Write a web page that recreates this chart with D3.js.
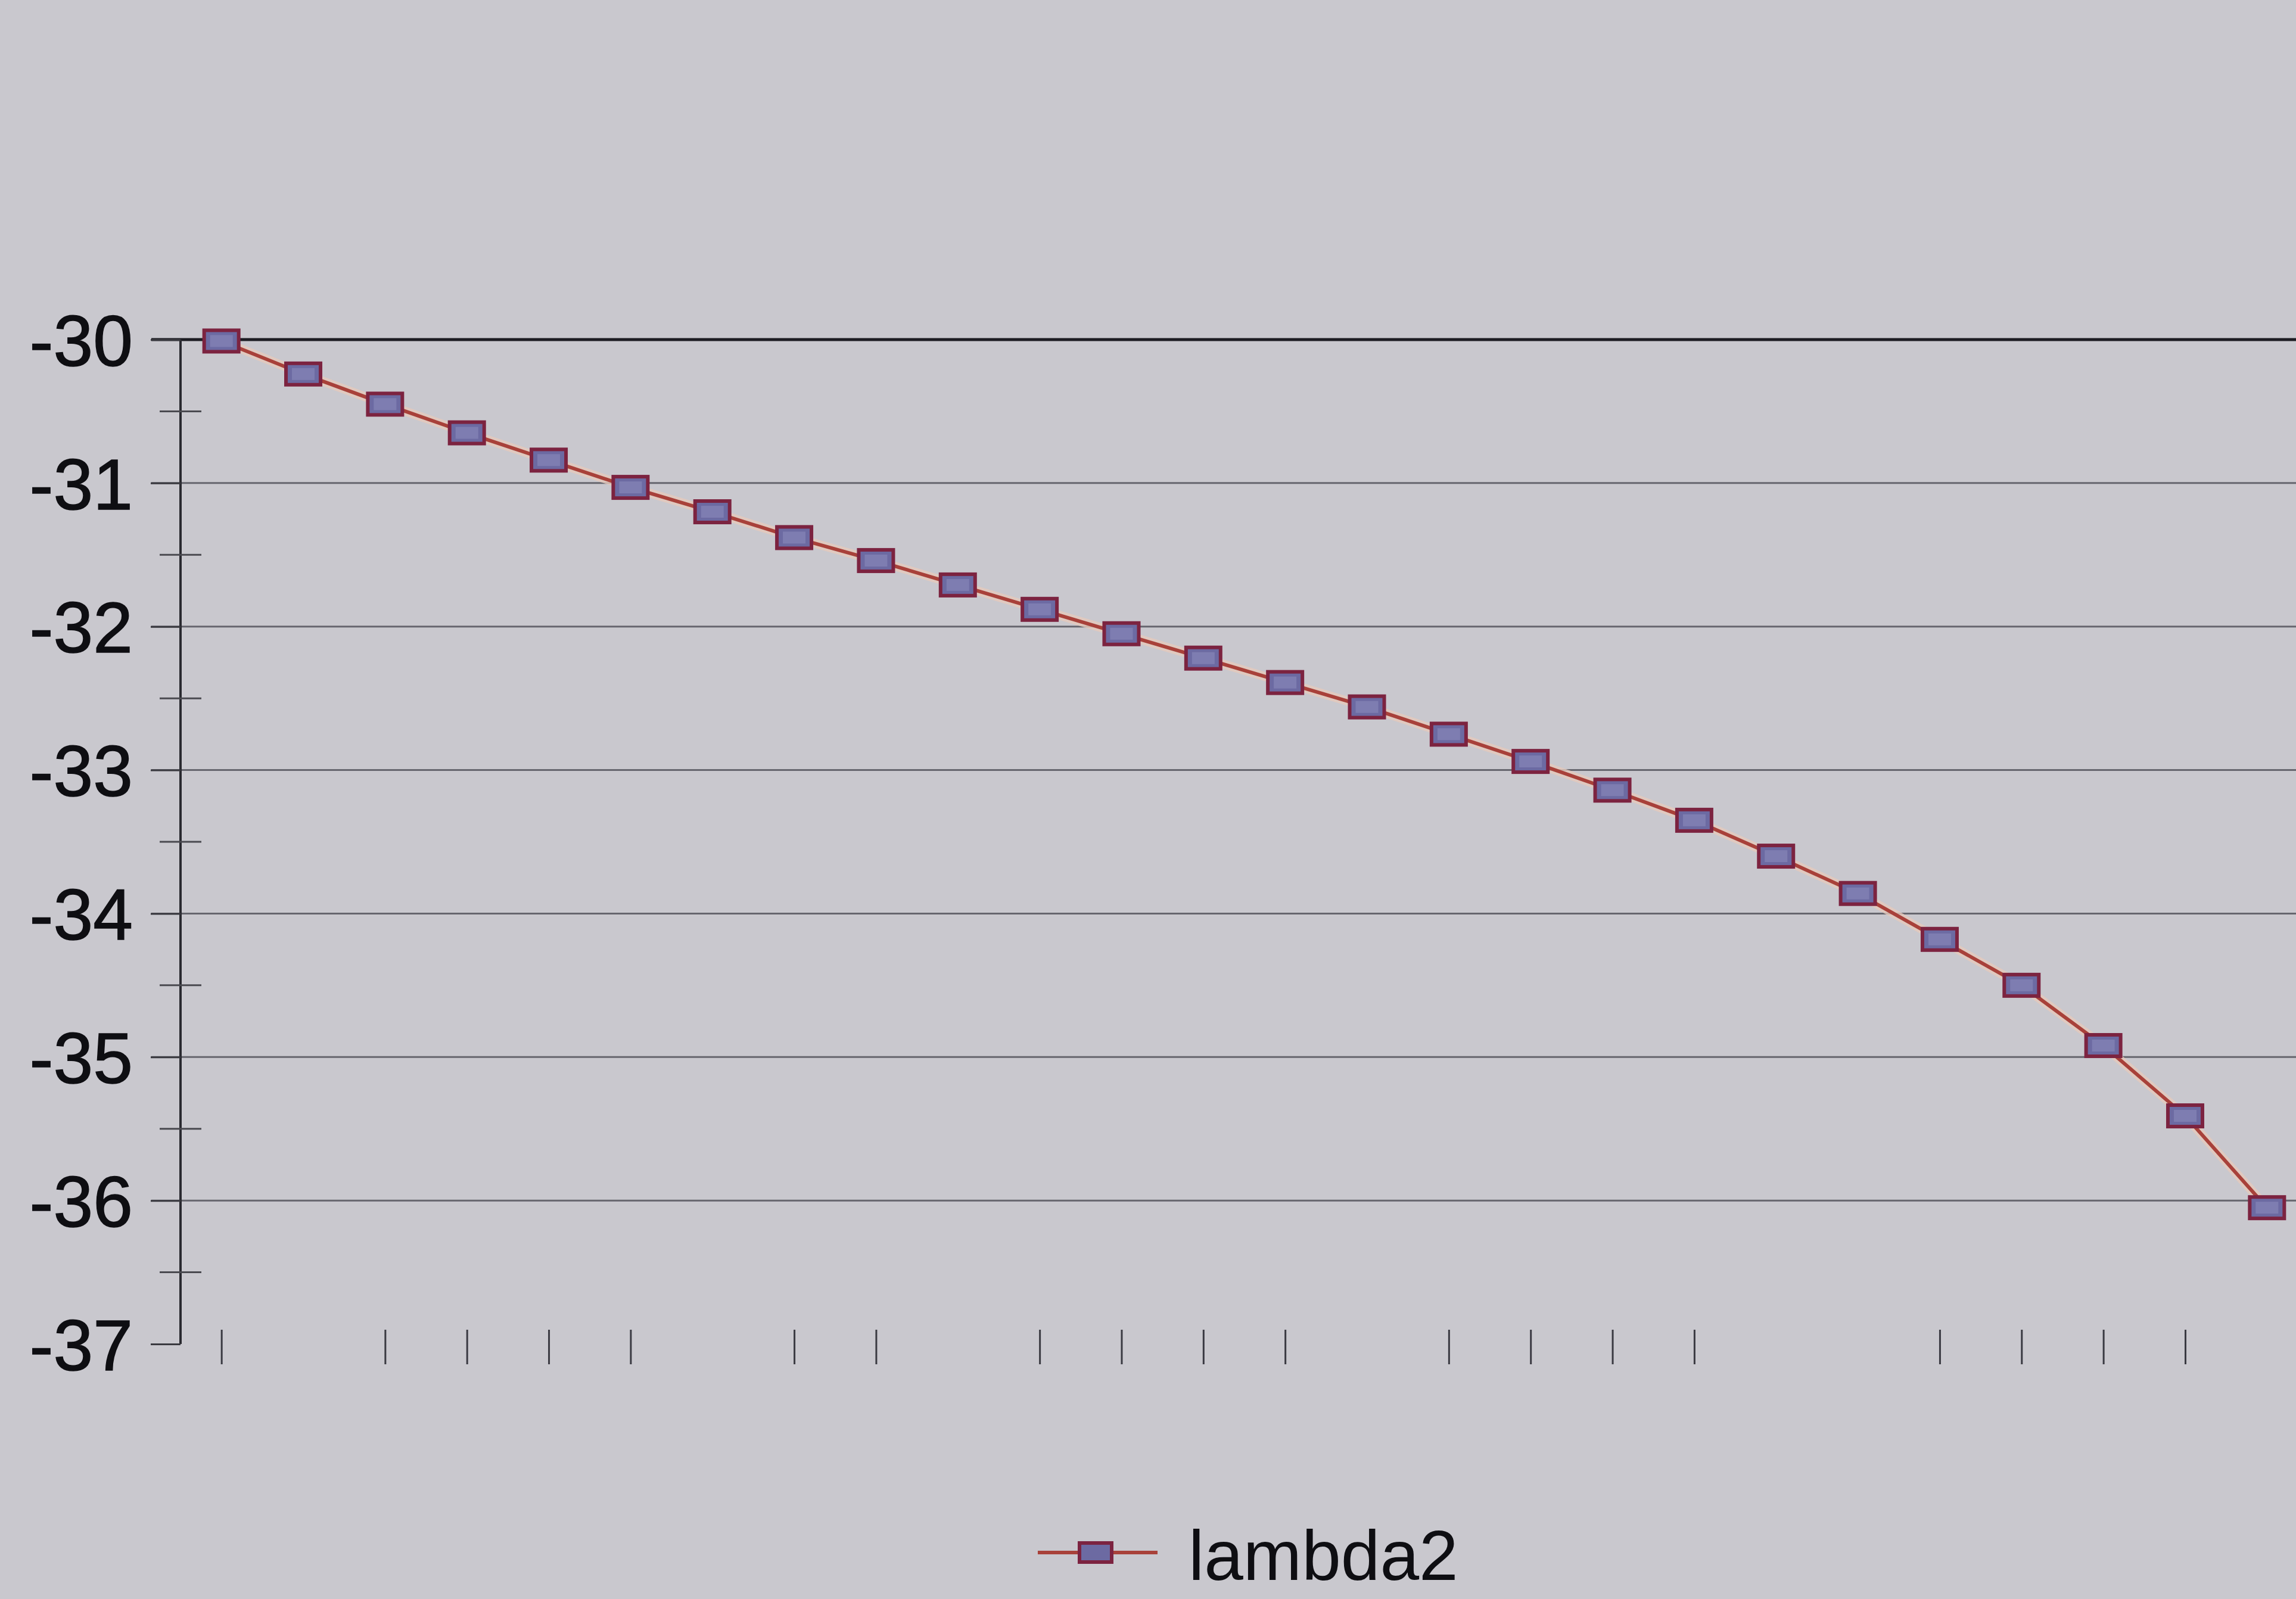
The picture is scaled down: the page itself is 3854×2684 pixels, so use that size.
<!DOCTYPE html>
<html>
<head>
<meta charset="utf-8">
<script src="https://cdn.jsdelivr.net/npm/d3@7"></script>
<style>
  html, body { margin: 0; padding: 0; background: #c9c8ce; }
  svg { display: block; }
</style>
</head>
<body>
<svg id="chart" width="3854" height="2684"></svg>
<script>
// ---- data ----
const categories = d3.range(1, 27).map(String);
const lambda2 = [-30.01, -30.24, -30.45, -30.65, -30.84, -31.03, -31.20, -31.38, -31.54, -31.71,
                 -31.88, -32.05, -32.22, -32.39, -32.56, -32.75, -32.94, -33.14, -33.35, -33.60,
                 -33.86, -34.18, -34.50, -34.92, -35.41, -36.05];
const yTickValues = [-30, -31, -32, -33, -34, -35, -36, -37];
const yTickLabels = ["-30", "-31", "-32", "-33", "-34", "-35", "-36", "-37"];
const yMinorValues = [-30.5, -31.5, -32.5, -33.5, -34.5, -35.5, -36.5];
const visibleXTicks = ["1","3","4","5","6","8","9","11","12","13","14","16","17","18","19","22","23","24","25"];
const seriesName = "lambda2";

// ---- layout ----
const W = 3854, H = 2684;
const axisX = 303, plotRight = 3874;
const yTop = 570, yBottom = 2256;

const svg = d3.select("#chart");
svg.append("rect").attr("width", W).attr("height", H).attr("fill", "#c9c8ce");

const x = d3.scalePoint().domain(categories).range([axisX, plotRight]).padding(0.5);
const y = d3.scaleLinear().domain([-37, -30]).range([yBottom, yTop]);

// gridlines
svg.append("g").selectAll("line").data(yTickValues.filter(v => v !== -37)).join("line")
  .attr("x1", 254).attr("x2", W)
  .attr("y1", d => y(d)).attr("y2", d => y(d))
  .attr("stroke", d => d === -30 ? "#1c1c22" : "#66666e")
  .attr("stroke-width", d => d === -30 ? 5 : 3);

// y axis
const yAxis = d3.axisLeft(y).tickValues(yTickValues).tickSize(50).tickPadding(30)
  .tickFormat((d, i) => yTickLabels[i]);
const gy = svg.append("g").attr("transform", `translate(${axisX},0)`).call(yAxis);
gy.select(".domain").attr("stroke", "#2a2a30").attr("stroke-width", 4)
  .attr("d", `M0,${yTop}V${yBottom}`);
gy.selectAll(".tick line").attr("stroke", "#3a3a40").attr("stroke-width", 3);
gy.selectAll(".tick text")
  .attr("font-family", "'Liberation Sans', Arial, sans-serif")
  .attr("font-size", 120).attr("fill", "#0e0e12").attr("dy", "0.36em")
  .attr("stroke", "#0e0e12").attr("stroke-width", 1.5);

// minor ticks
svg.append("g").selectAll("line").data(yMinorValues).join("line")
  .attr("x1", axisX - 35).attr("x2", axisX + 35)
  .attr("y1", d => y(d)).attr("y2", d => y(d))
  .attr("stroke", "#4a4a50").attr("stroke-width", 3);

// x ticks (only those visible in the photo)
const xAxis = d3.axisBottom(x).tickValues(visibleXTicks).tickSize(58).tickFormat("");
const gx = svg.append("g").attr("transform", `translate(0,${yBottom - 24})`).call(xAxis);
gx.select(".domain").remove();
gx.selectAll(".tick line").attr("stroke", "#3a3a42").attr("stroke-width", 3);

// series line
const line = d3.line().x((d, i) => x(categories[i])).y(d => y(d));
svg.append("path").datum(lambda2).attr("d", line)
  .attr("fill", "none").attr("stroke", "#e6c9bb").attr("stroke-width", 15).attr("opacity", 0.8);
svg.append("path").datum(lambda2).attr("d", line)
  .attr("fill", "none").attr("stroke", "#a8413a").attr("stroke-width", 6);

// markers
const mw = 58, mh = 36;
const markers = svg.append("g").selectAll("g").data(lambda2).join("g")
  .attr("transform", (d, i) => `translate(${x(categories[i])},${y(d)})`);
markers.append("rect").attr("x", -mw/2).attr("y", -mh/2).attr("width", mw).attr("height", mh)
  .attr("fill", "#6c6aa2").attr("stroke", "#7c2340").attr("stroke-width", 6);
markers.append("rect").attr("x", -mw/2 + 10).attr("y", -mh/2 + 8).attr("width", mw - 20).attr("height", mh - 16)
  .attr("fill", "#8686b8").attr("opacity", 0.7);

// legend
const lg = svg.append("g");
lg.append("line").attr("x1", 1742).attr("x2", 1943).attr("y1", 2606).attr("y2", 2606)
  .attr("stroke", "#a8413a").attr("stroke-width", 6);
lg.append("rect").attr("x", 1839 - 27).attr("y", 2606 - 16).attr("width", 54).attr("height", 32)
  .attr("fill", "#6c6aa2").attr("stroke", "#7c2340").attr("stroke-width", 6);
lg.append("text").attr("x", 1995).attr("y", 2652)
  .attr("font-family", "'Liberation Sans', Arial, sans-serif")
  .attr("font-size", 118).attr("fill", "#0e0e12").text(seriesName);
</script>
</body>
</html>
